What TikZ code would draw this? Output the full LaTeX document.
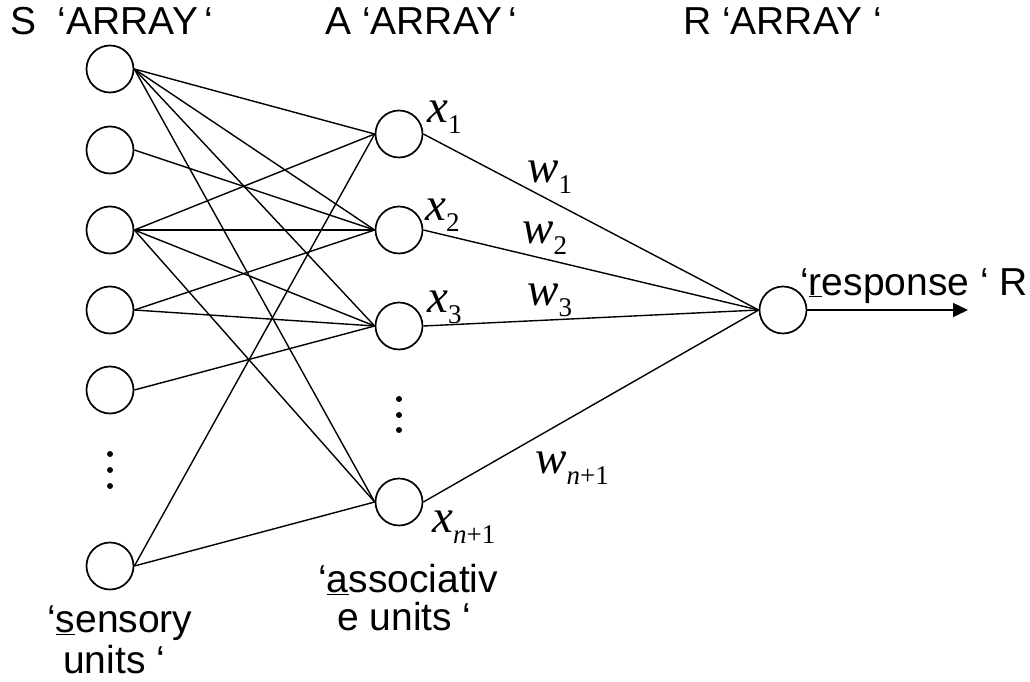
\documentclass[tikz,border=0pt]{standalone}
\usepackage{fontspec}
\setmainfont{Liberation Sans}
\newfontfamily\serifmath{Liberation Serif}
\usetikzlibrary{arrows.meta}

% italic variable with an upright subscript, set in a Times-like face
\newcommand\mvar[2]{{\fontsize{47}{47}\selectfont\serifmath\itshape #1}\raisebox{-11pt}{\fontsize{27}{27}\selectfont\serifmath #2}}
\newcommand\nplus{\textit{n}+1}

\begin{document}
\begin{tikzpicture}[x=1pt,y=-1pt,
  unit/.style={circle,draw,line width=1.7pt,minimum size=47pt,inner sep=0pt},
  link/.style={line width=1.4pt},
  lbl/.style={anchor=base west,inner sep=0pt,font=\fontsize{39}{39}\selectfont},
  var/.style={anchor=base west,inner sep=0pt},
  dot/.style={circle,fill,inner sep=0pt,minimum size=6pt}]
\useasboundingbox (0,0) rectangle (1030,682);

% sensory units
\node[unit] (s1) at (110,69) {};
\node[unit] (s2) at (110,150) {};
\node[unit] (s3) at (110,230) {};
\node[unit] (s4) at (110,310) {};
\node[unit] (s5) at (110,390) {};
\node[unit] (s6) at (110,566) {};
\node[dot] (sd1) at (110,454) {};
\node[dot] (sd2) at (110,470) {};
\node[dot] (sd3) at (110,486) {};

% associative units
\node[unit] (a1) at (399,134) {};
\node[unit] (a2) at (399,230) {};
\node[unit] (a3) at (399,326) {};
\node[unit] (a4) at (399,502) {};
\node[dot] (ad1) at (399,399) {};
\node[dot] (ad2) at (399,415) {};
\node[dot] (ad3) at (399,430) {};

% response unit
\node[unit] (r) at (783,310) {};
\coordinate (out) at (968,310);

% S -> A connections
\foreach \a in {a1,a2,a3,a4} \draw[link] (s1.east) -- (\a.west);
\draw[link] (s2.east) -- (a2.west);
\foreach \a in {a1,a2,a3,a4} \draw[link] (s3.east) -- (\a.west);
\draw[link] (s4.east) -- (a2.west);
\draw[link] (s4.east) -- (a3.west);
\draw[link] (s5.east) -- (a3.west);
\draw[link] (s6.east) -- (a1.west);
\draw[link] (s6.east) -- (a4.west);

% A -> R connections
\foreach \a in {a1,a2,a3,a4} \draw[link] (\a.east) -- (r.west);
\draw[link,-{Triangle[length=15pt,width=14pt]}] (r.east) -- (out);

% inputs and weights
\node[var] (x1) at (427,122) {\mvar{x}{1}};
\node[var] (x2) at (425,220) {\mvar{x}{2}};
\node[var] (x3) at (427,312) {\mvar{x}{3}};
\node[var] (xn) at (432,532) {\mvar{x}{\nplus}};
\node[var] (w1) at (527,182) {\mvar{w}{1}};
\node[var] (w2) at (522,243) {\mvar{w}{2}};
\node[var] (w3) at (527,305) {\mvar{w}{3}};
\node[var] (wn) at (535,473) {\mvar{w}{\nplus}};

% layer titles
\node[lbl] (ts) at (10,35) {S\ \ ‘ARRAY\,‘};
\node[lbl] (ta) at (325,35) {A ‘ARRAY\,‘};
\node[lbl] (tr) at (683,35) {R ‘ARRAY ‘};

% unit captions
\node[lbl] (resp) at (800,295) {‘\underline{r}esponse ‘ R};
\node[lbl] (sens1) at (47,632) {‘\underline{s}ensory};
\node[lbl] (sens2) at (63,673) {units ‘};
\node[lbl] (assoc1) at (318,592) {‘\underline{a}ssociativ};
\node[lbl] (assoc2) at (337,630) {e units ‘};
\end{tikzpicture}
\end{document}
